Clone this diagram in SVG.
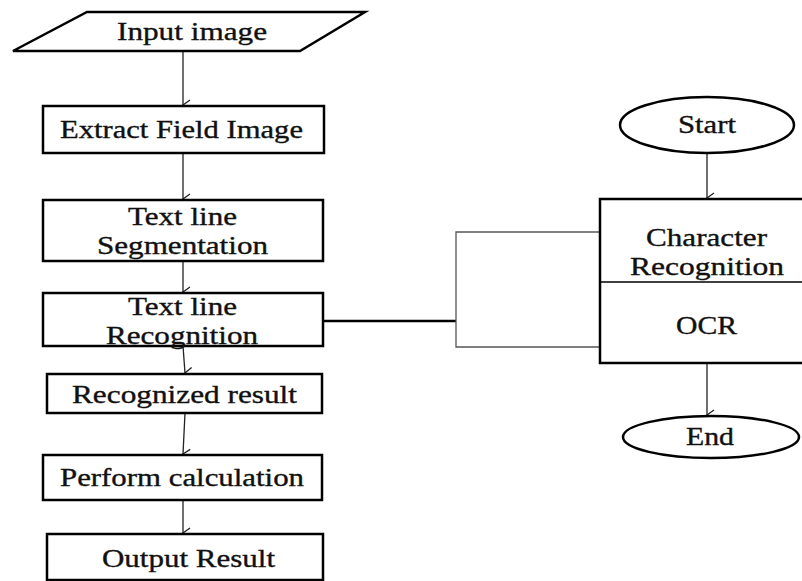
<svg xmlns="http://www.w3.org/2000/svg" width="802" height="581" viewBox="0 0 802 581">
<defs>
<style>
.shape{fill:#fff;stroke:#000;stroke-width:2.5}
.t{font-family:"Liberation Serif","Times New Roman",serif;font-size:25px;fill:#111;stroke:#111;stroke-width:0.35;text-anchor:middle}
.arrow{fill:none;stroke:#222;stroke-width:1.3}
.thin{fill:none;stroke:#555;stroke-width:1.3}
.thick{fill:none;stroke:#000;stroke-width:2.5}
</style>
<marker id="ah" markerWidth="12" markerHeight="12" refX="6" refY="10" orient="auto" markerUnits="userSpaceOnUse" viewBox="0 0 12 12">
<path d="M1,3 L6,10 L11,3" fill="none" stroke="#222" stroke-width="1.3"/>
</marker>
</defs>
<rect width="802" height="581" fill="#fff"/>
<g id="connectors">
<line class="arrow" x1="183" y1="51" x2="183" y2="105" marker-end="url(#ah)"/>
<line class="arrow" x1="183" y1="153" x2="183" y2="199" marker-end="url(#ah)"/>
<line class="arrow" x1="183" y1="261" x2="183" y2="292" marker-end="url(#ah)"/>
<line class="arrow" x1="183" y1="346" x2="185" y2="373" marker-end="url(#ah)"/>
<line class="arrow" x1="185" y1="413" x2="183" y2="454" marker-end="url(#ah)"/>
<line class="arrow" x1="183" y1="500" x2="183" y2="533" marker-end="url(#ah)"/>
<line class="arrow" x1="707" y1="153" x2="707" y2="198" marker-end="url(#ah)"/>
<line class="arrow" x1="707" y1="363" x2="707" y2="415" marker-end="url(#ah)"/>
<line class="thick" x1="323" y1="321" x2="456" y2="321"/>
<polyline class="thin" points="600,232 456,232 456,347 600,347"/>
</g>
<g id="input-image">
<polygon class="shape" points="87,12 365,12 300,51 13,51"/>
<text class="t" x="192" y="40" textLength="150" lengthAdjust="spacingAndGlyphs">Input image</text>
</g>
<g id="extract-field-image">
<rect class="shape" x="43" y="106" width="281" height="47"/>
<text class="t" x="181.5" y="138" textLength="243" lengthAdjust="spacingAndGlyphs">Extract Field Image</text>
</g>
<g id="text-line-segmentation">
<rect class="shape" x="43" y="200" width="280" height="61"/>
<text class="t" x="182.5" y="225" textLength="109" lengthAdjust="spacingAndGlyphs">Text line</text>
<text class="t" x="182.5" y="254" textLength="171" lengthAdjust="spacingAndGlyphs">Segmentation</text>
</g>
<g id="text-line-recognition">
<rect class="shape" x="43" y="293" width="280" height="53"/>
<text class="t" x="182.5" y="315" textLength="109" lengthAdjust="spacingAndGlyphs">Text line</text>
<text class="t" x="182" y="344" textLength="152" lengthAdjust="spacingAndGlyphs">Recognition</text>
</g>
<g id="recognized-result">
<rect class="shape" x="47" y="374" width="275" height="39"/>
<text class="t" x="184.5" y="403" textLength="225" lengthAdjust="spacingAndGlyphs">Recognized result</text>
</g>
<g id="perform-calculation">
<rect class="shape" x="43" y="455" width="279" height="45"/>
<text class="t" x="182" y="486" textLength="244" lengthAdjust="spacingAndGlyphs">Perform calculation</text>
</g>
<g id="output-result">
<rect class="shape" x="47" y="534" width="276" height="46"/>
<text class="t" x="188.5" y="567" textLength="173" lengthAdjust="spacingAndGlyphs">Output Result</text>
</g>
<g id="start">
<ellipse class="shape" cx="707" cy="125" rx="87" ry="28"/>
<text class="t" x="707" y="133" textLength="58" lengthAdjust="spacingAndGlyphs">Start</text>
</g>
<g id="character-recognition">
<rect class="shape" x="600" y="199" width="204" height="164"/>
<line x1="600" y1="282" x2="802" y2="282" stroke="#000" stroke-width="1.3"/>
<text class="t" x="706.5" y="246" textLength="121" lengthAdjust="spacingAndGlyphs">Character</text>
<text class="t" x="707" y="275" textLength="154" lengthAdjust="spacingAndGlyphs">Recognition</text>
<text class="t" x="706.5" y="334" textLength="61" lengthAdjust="spacingAndGlyphs">OCR</text>
</g>
<g id="end">
<ellipse class="shape" cx="711" cy="437" rx="88" ry="21"/>
<text class="t" x="710" y="445" textLength="48" lengthAdjust="spacingAndGlyphs">End</text>
</g>
</svg>
